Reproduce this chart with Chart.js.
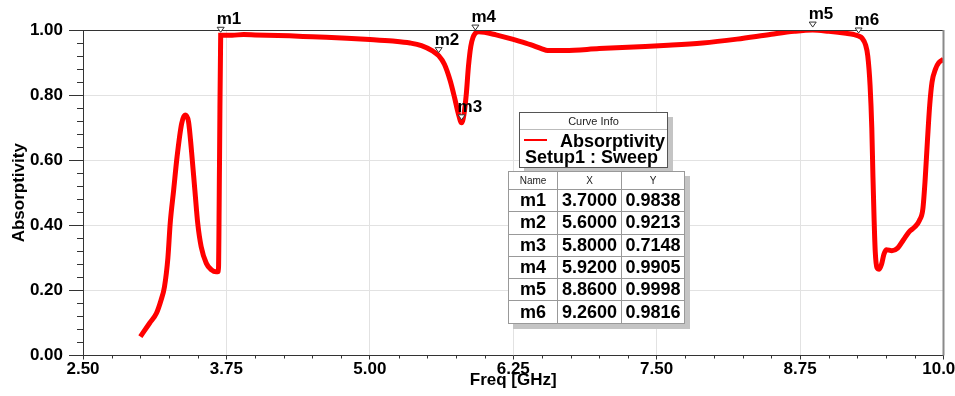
<!DOCTYPE html>
<html>
<head>
<meta charset="utf-8">
<script src="https://cdn.jsdelivr.net/npm/chart.js@4.4.1/dist/chart.umd.min.js"></script>
<style>
  html, body { margin: 0; padding: 0; background: #fff; }
  #wrap { position: relative; width: 955px; height: 396px; overflow: hidden; font-family: "Liberation Sans", Arial, sans-serif; }
  canvas { position: absolute; left: 0; top: 0; }
  #legend { position: absolute; left: 519px; top: 112px; width: 147px; height: 54px; border: 1px solid #555; background: #fff; box-shadow: 5px 5px 0 #c4c4c4; }
  #legend .ttl { position: absolute; left: 0; top: 0; width: 147px; height: 16px; line-height: 16px; font-size: 11px; text-align: center; color: #222; border-bottom: 1px solid #bbb; }
  #legend .sw { position: absolute; left: 4px; top: 26px; width: 23px; height: 2px; background: #ff0000; }
  #legend .t1 { position: absolute; left: 40px; top: 18.5px; font-size: 18px; line-height: 18px; font-weight: bold; color: #000; white-space: nowrap; }
  #legend .t2 { position: absolute; left: 5px; top: 35px; font-size: 18px; line-height: 18px; font-weight: bold; color: #000; white-space: nowrap; }
  #mtable { position: absolute; left: 508px; top: 171px; border-collapse: collapse; table-layout: fixed; background: #fff; box-shadow: 5px 5px 0 #c4c4c4; border: 1px solid #555; }
  #mtable td, #mtable th { border: 1px solid #999; padding: 0; text-align: center; overflow: hidden; white-space: nowrap; }
  #mtable th { height: 17px; font-size: 10px; font-weight: normal; color: #222; }
  #mtable td { height: 21.3px; font-size: 18px; font-weight: bold; color: #000; }
</style>
</head>
<body>
<div id="wrap">
  <canvas id="c" width="955" height="396"></canvas>
  <div id="legend">
    <div class="ttl">Curve Info</div>
    <div class="sw"></div>
    <div class="t1" id="seriesName"></div>
    <div class="t2" id="setupName"></div>
  </div>
  <table id="mtable">
    <colgroup><col style="width:49px"><col style="width:64px"><col style="width:63px"></colgroup>
    <thead><tr><th>Name</th><th>X</th><th>Y</th></tr></thead>
    <tbody id="tbody"></tbody>
  </table>
</div>
<script>
// ---- data ----
const seriesName = "Absorptivity";
const setupName = "Setup1 : Sweep";
const xTitle = "Freq [GHz]";
const yTitle = "Absorptivity";

const freq = [
  3.00, 3.08, 3.14, 3.18, 3.21, 3.24, 3.26, 3.29, 3.32, 3.36, 3.39, 3.42, 3.445, 3.475, 3.50, 3.53, 3.575, 3.62, 3.66, 3.68, 3.69,
  3.70, 3.80, 3.90, 4.00, 4.30, 4.50, 4.80, 5.00, 5.20, 5.35, 5.45, 5.55, 5.60, 5.65, 5.70, 5.74, 5.77, 5.80, 5.82, 5.84, 5.86, 5.88, 5.90, 5.92,
  5.95, 6.00, 6.10, 6.20, 6.30, 6.40, 6.50, 6.55, 6.70, 7.00, 7.30, 7.60, 7.90, 8.20, 8.50, 8.70, 8.86, 9.00, 9.15, 9.22, 9.26,
  9.29, 9.32, 9.34, 9.36, 9.375, 9.385, 9.395, 9.405, 9.42, 9.44, 9.46, 9.48, 9.50, 9.55, 9.60, 9.65, 9.70, 9.75, 9.79, 9.82, 9.84, 9.86, 9.88, 9.90, 9.93, 9.96, 10.00
];
const absorptivity = [
  0.058, 0.099, 0.130, 0.170, 0.211, 0.300, 0.406, 0.508, 0.611, 0.713, 0.739, 0.718, 0.631, 0.508, 0.406, 0.334, 0.283, 0.263, 0.257, 0.258, 0.60,
  0.9838, 0.984, 0.986, 0.985, 0.982, 0.979, 0.975, 0.971, 0.966, 0.960, 0.952, 0.935, 0.9213, 0.895, 0.845, 0.790, 0.745, 0.7148, 0.740, 0.800, 0.890, 0.950, 0.978, 0.9905,
  0.995, 0.993, 0.985, 0.976, 0.966, 0.955, 0.942, 0.937, 0.937, 0.943, 0.948, 0.953, 0.960, 0.972, 0.987, 0.996, 0.9998, 0.996, 0.990, 0.986, 0.9816,
  0.975, 0.955, 0.920, 0.830, 0.700, 0.550, 0.420, 0.320, 0.270, 0.265, 0.280, 0.310, 0.325, 0.322, 0.330, 0.355, 0.380, 0.395, 0.415, 0.450, 0.540, 0.660, 0.770, 0.840, 0.880, 0.900, 0.910
];

const xTicks = [2.50, 3.75, 5.00, 6.25, 7.50, 8.75, 10.00];
const yTicks = [0.00, 0.20, 0.40, 0.60, 0.80, 1.00];

const markerNames = ["m1", "m2", "m3", "m4", "m5", "m6"];
const markerFreq  = [3.7000, 5.6000, 5.8000, 5.9200, 8.8600, 9.2600];
const markerAbs   = [0.9838, 0.9213, 0.7148, 0.9905, 0.9998, 0.9816];

// ---- overlays (legend + marker table) ----
document.getElementById('seriesName').textContent = seriesName;
document.getElementById('setupName').textContent = setupName;
const tb = document.getElementById('tbody');
markerNames.forEach((n, i) => {
  const tr = document.createElement('tr');
  [n, markerFreq[i].toFixed(4), markerAbs[i].toFixed(4)].forEach(v => {
    const td = document.createElement('td'); td.textContent = v; tr.appendChild(td);
  });
  tb.appendChild(tr);
});

const FONT = '"Liberation Sans", Arial, sans-serif';

const framePlugin = {
  id: 'frame',
  afterDraw(chart) {
    const {ctx, chartArea: a, scales: {x, y}} = chart;
    ctx.save();
    // minor ticks
    ctx.strokeStyle = '#333'; ctx.lineWidth = 1;
    ctx.beginPath();
    for (let i = 0; i <= 30; i++) {
      if (i % 5 === 0) continue;
      const px = Math.round(x.getPixelForValue(2.5 + i * 0.25)) + 0.5;
      ctx.moveTo(px, a.bottom); ctx.lineTo(px, a.bottom + 3);
    }
    for (let i = 0; i <= 25; i++) {
      if (i % 5 === 0) continue;
      const py = Math.round(y.getPixelForValue(i * 0.04)) + 0.5;
      ctx.moveTo(a.left - 6, py); ctx.lineTo(a.left, py);
    }
    ctx.stroke();
    // top border
    ctx.strokeStyle = '#333';
    ctx.beginPath(); ctx.moveTo(a.left, Math.round(a.top) + 0.5); ctx.lineTo(a.right, Math.round(a.top) + 0.5); ctx.stroke();
    // right border
    ctx.strokeStyle = '#8a8a8a'; ctx.lineWidth = 2;
    ctx.beginPath(); ctx.moveTo(a.right, a.top); ctx.lineTo(a.right, a.bottom); ctx.stroke();
    // markers
    ctx.lineWidth = 1; ctx.strokeStyle = '#333'; ctx.fillStyle = '#fff';
    ctx.font = 'bold 17px ' + FONT;
    ctx.textBaseline = 'alphabetic'; ctx.textAlign = 'left';
    markerNames.forEach((n, i) => {
      const px = x.getPixelForValue(markerFreq[i]);
      const py = y.getPixelForValue(markerAbs[i]);
      ctx.beginPath();
      ctx.moveTo(px, py - 3);
      ctx.lineTo(px - 3.5, py - 8);
      ctx.lineTo(px + 3.5, py - 8);
      ctx.closePath();
      ctx.fillStyle = '#fff'; ctx.fill(); ctx.stroke();
      ctx.fillStyle = '#000';
      ctx.fillText(n, px - 4, py - 11);
    });
    ctx.restore();
  }
};

new Chart(document.getElementById('c'), {
  type: 'line',
  data: {
    datasets: [{
      label: seriesName,
      data: freq.map((f, i) => ({x: f, y: absorptivity[i]})),
      borderColor: '#ff0000',
      borderWidth: 5,
      pointRadius: 0,
      cubicInterpolationMode: 'monotone',
      fill: false
    }]
  },
  options: {
    responsive: false,
    animation: false,
    devicePixelRatio: 1,
    layout: { padding: { top: 30, right: 11.5, left: 0, bottom: 0 } },
    plugins: { legend: { display: false }, tooltip: { enabled: false } },
    scales: {
      x: {
        type: 'linear', min: 2.5, max: 10,
        afterBuildTicks: s => { s.ticks = xTicks.map(v => ({value: v})); },
        afterFit: s => { s.height = 40.5; s.paddingLeft = 0; s.paddingRight = 0; },
        ticks: { callback: v => Number(v).toFixed(2), font: { family: FONT, size: 17, weight: 'bold' }, color: '#000', padding: 0, maxRotation: 0, autoSkip: false },
        grid: { color: '#e2e2e2', tickColor: '#333', tickLength: 4 },
        border: { color: '#333', width: 1 },
        title: { display: true, text: xTitle, font: { family: FONT, size: 17, weight: 'bold' }, color: '#000', padding: { top: 0, bottom: 5 } }
      },
      y: {
        type: 'linear', min: 0, max: 1,
        afterBuildTicks: s => { s.ticks = yTicks.map(v => ({value: v})); },
        afterFit: s => { s.width = 83; },
        ticks: { callback: v => Number(v).toFixed(2), font: { family: FONT, size: 17, weight: 'bold' }, color: '#000', padding: 6 },
        grid: { color: '#e2e2e2', tickColor: '#333', tickLength: 14 },
        border: { color: '#333', width: 1 },
        title: { display: true, text: yTitle, font: { family: FONT, size: 17, weight: 'bold' }, color: '#000', padding: { top: 9, bottom: 0 } }
      }
    }
  },
  plugins: [framePlugin]
});
</script>
</body>
</html>
